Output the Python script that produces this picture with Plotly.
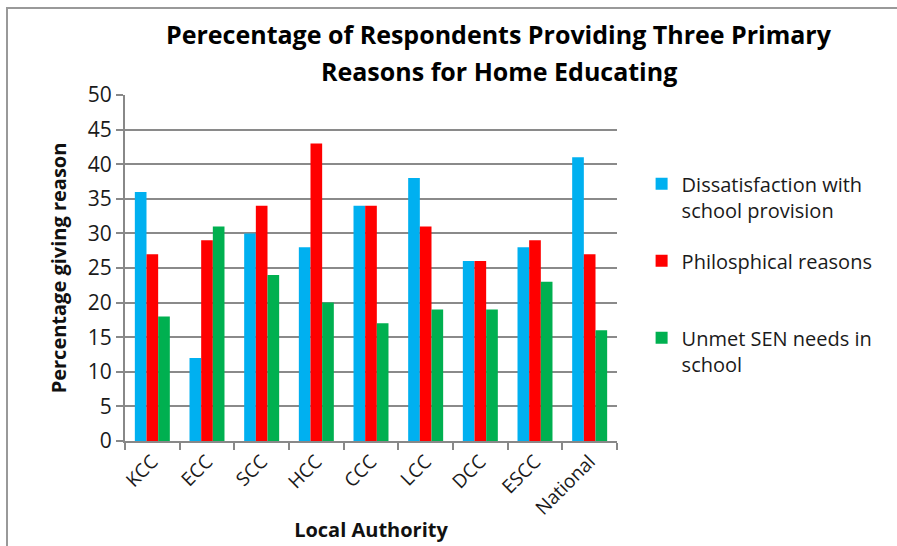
import plotly.graph_objects as go

categories = ["KCC", "ECC", "SCC", "HCC", "CCC", "LCC", "DCC", "ESCC", "National"]
dissatisfaction = [36, 12, 30, 28, 34, 38, 26, 28, 41]
philosophical = [27, 29, 34, 43, 34, 31, 26, 29, 27]
unmet_sen = [18, 31, 24, 20, 17, 19, 19, 23, 16]
series_names = ["Dissatisfaction with<br>school provision", "Philosphical reasons<br> ", "Unmet SEN needs in<br>school"]
series_colors = ["#00B0F0", "#FF0000", "#00B050"]
y_ticks = [0, 5, 10, 15, 20, 25, 30, 35, 40, 45, 50]

FONT = "Open Sans"

fig = go.Figure()
for i, (name, vals, col) in enumerate(zip(series_names, [dissatisfaction, philosophical, unmet_sen], series_colors)):
    fig.add_trace(go.Bar(x=categories, y=vals, name=name, marker=dict(color=col, line=dict(width=0)),
                         legendgroup=str(i)))

fig.update_layout(
    width=897, height=546,
    margin=dict(l=125, r=280, t=95, b=105),
    paper_bgcolor="white", plot_bgcolor="white",
    barmode="group", bargap=0.36, bargroupgap=0,
    font=dict(family=FONT, color="#222222"),
    showlegend=True,
    legend=dict(x=1.05, y=0.80, xanchor="left", yanchor="top", traceorder="grouped",
                tracegroupgap=22, valign="top", font=dict(size=20, family=FONT, color="#1a1a1a"),
                itemwidth=30),
    xaxis=dict(showline=True, linecolor="#888888", linewidth=2, ticks="outside", ticklen=7,
               tickcolor="#888888", tickwidth=2, tickson="boundaries", tickangle=-45, automargin=False,
               tickfont=dict(size=19, family=FONT, color="#1a1a1a"),
               title=dict(text="<b>Local Authority</b>", font=dict(size=20, family=FONT, color="#111111"), standoff=4)),
    yaxis=dict(range=[0, 50], tickvals=y_ticks, showline=True, linecolor="#888888", linewidth=2,
               ticks="outside", ticklen=7, tickcolor="#888888", tickwidth=2, automargin=False,
               showgrid=True, gridcolor="#8a8a8a", gridwidth=2, zeroline=False,
               tickfont=dict(size=21, family=FONT, color="#1a1a1a"),
               title=dict(text="<b>Percentage giving reason</b>", font=dict(size=20, family=FONT, color="#111111"), standoff=16)),
    annotations=[
        dict(text="<b>Perecentage of Respondents Providing Three Primary</b>", xref="paper", yref="paper",
             x=(499 - 125) / 492, y=(441 - 34) / 346, xanchor="center", yanchor="middle", showarrow=False,
             font=dict(size=25, family=FONT, color="#000000")),
        dict(text="<b>Reasons for Home Educating</b>", xref="paper", yref="paper",
             x=(499 - 125) / 492, y=(441 - 71) / 346, xanchor="center", yanchor="middle", showarrow=False,
             font=dict(size=25, family=FONT, color="#000000")),
    ],
    shapes=[dict(type="rect", xref="paper", yref="paper",
                 x0=(7 - 125) / 492, x1=(905 - 125) / 492, y0=(441 - 560) / 346, y1=(441 - 8) / 346,
                 line=dict(color="#999999", width=2), layer="below")],
)

fig.write_html("out.html")
